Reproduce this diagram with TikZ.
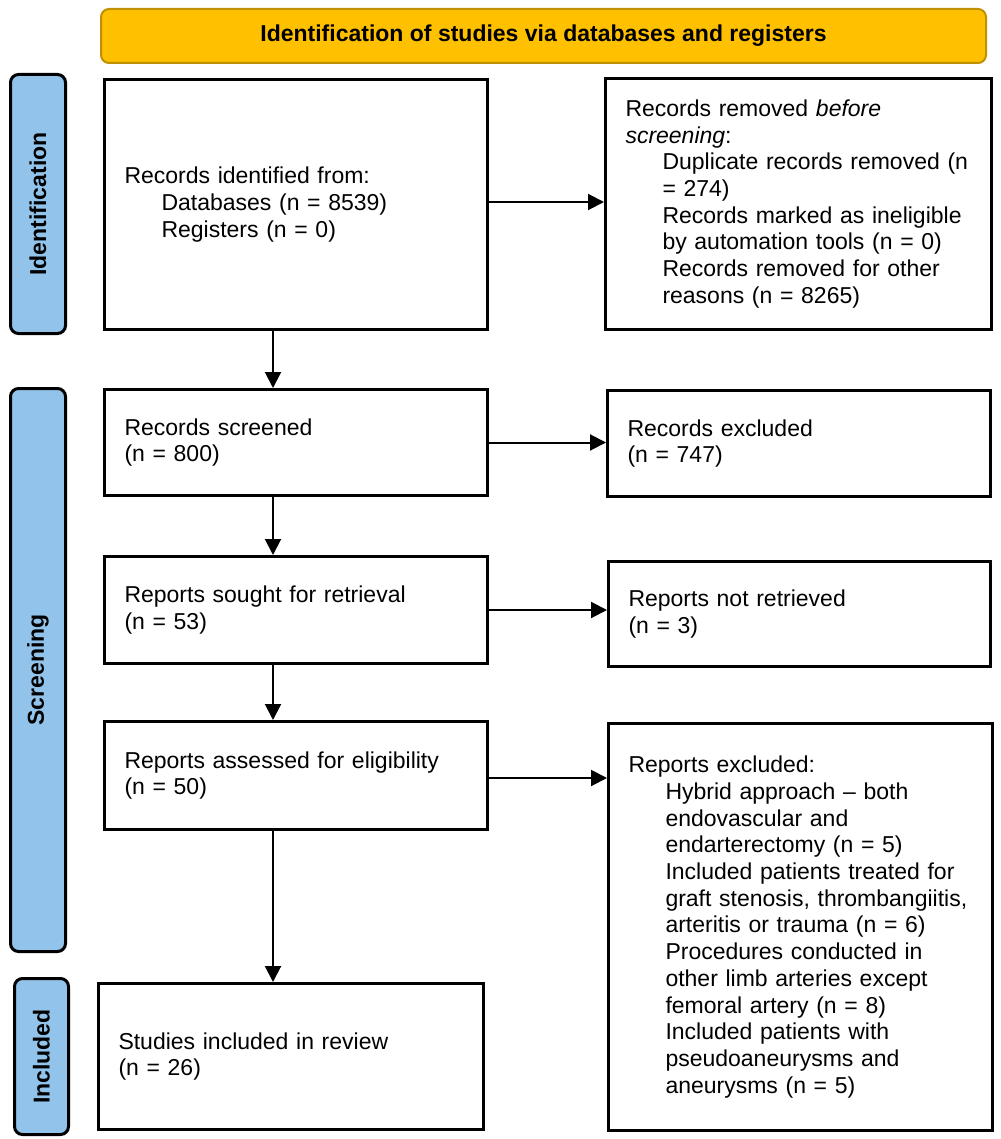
\documentclass[tikz,border=0pt]{standalone}
\usepackage{fontspec}
\setmainfont{Liberation Sans}
\usetikzlibrary{arrows.meta,calc}
\definecolor{bannerfill}{RGB}{255,192,0}
\definecolor{bannerline}{RGB}{191,144,0}
\definecolor{sidefill}{RGB}{146,196,235}
\newcommand{\ind}{\hspace*{37pt}}
\begin{document}
\begin{tikzpicture}[x=1pt,y=-1pt,
  every node/.style={font=\fontsize{23}{26.7}\selectfont},
  box/.style={draw=black, line width=3pt, fill=white, anchor=north west,
    inner xsep=20pt, inner ysep=0pt, align=left},
  side/.style={draw=black, line width=3pt, fill=sidefill, rounded corners=8pt,
    anchor=north west, inner sep=0pt, font=\fontsize{23}{26.7}\selectfont\bfseries},
  arr/.style={line width=2pt, -{Triangle[length=16pt,width=16pt]}}]
\useasboundingbox (0,0) rectangle (1000,1139);

% banner
\node[draw=bannerline, line width=2pt, fill=bannerfill, rounded corners=8pt,
  minimum width=885pt, minimum height=54pt, anchor=north west, inner sep=0pt,
  font=\fontsize{23}{26.7}\selectfont\bfseries] (banner) at (100,8)
  {Identification of studies via databases and registers};

% side labels
\node[side, minimum width=55pt, minimum height=259pt] (idlab) at (9,73) {\rotatebox{90}{Identification}};
\node[side, minimum width=55pt, minimum height=563pt] (scrlab) at (9,387) {\rotatebox{90}{Screening}};
\node[side, minimum width=54pt, minimum height=156pt] (inclab) at (13,977) {\rotatebox{90}{Included}};

% left column
\node[box, minimum width=383pt, minimum height=250pt, text width=343pt] (ident) at (103,78)
  {Records identified from:\\\ind Databases (n = 8539)\\\ind Registers (n = 0)};
\node[box, minimum width=383pt, minimum height=106pt, text width=343pt] (screened) at (103,388)
  {Records screened\\(n = 800)};
\node[box, minimum width=383pt, minimum height=107pt, text width=343pt] (sought) at (103,555)
  {Reports sought for retrieval\\(n = 53)};
\node[box, minimum width=383pt, minimum height=108pt, text width=343pt] (assessed) at (103,720)
  {Reports assessed for eligibility\\(n = 50)};
\node[box, minimum width=385pt, minimum height=146pt, text width=345pt] (studies) at (97,982)
  {Studies included in review\\(n = 26)};

% right column
\node[box, minimum width=386pt, minimum height=251pt, text width=346pt] (removed) at (604,77)
  {Records removed \textit{before}\\\textit{screening}:\\
   \ind Duplicate records removed (n\\\ind = 274)\\
   \ind Records marked as ineligible\\\ind by automation tools (n = 0)\\
   \ind Records removed for other\\\ind reasons (n = 8265)};
\node[box, minimum width=383pt, minimum height=106pt, text width=343pt] (excluded) at (606,389)
  {Records excluded\\(n = 747)};
\node[box, minimum width=382pt, minimum height=105pt, text width=342pt] (notret) at (607,560)
  {Reports not retrieved\\(n = 3)};
\node[box, minimum width=384pt, minimum height=407pt, text width=344pt] (repexcl) at (607,722)
  {Reports excluded:\\
   \ind Hybrid approach -- both\\\ind endovascular and\\\ind endarterectomy (n = 5)\\
   \ind Included patients treated for\\\ind graft stenosis, thrombangiitis,\\\ind arteritis or trauma (n = 6)\\
   \ind Procedures conducted in\\\ind other limb arteries except\\\ind femoral artery (n = 8)\\
   \ind Included patients with\\\ind pseudoaneurysms and\\\ind aneurysms (n = 5)};

% connectors
\coordinate (vx) at (273,0);
\draw[arr] (ident.south -| vx) -- (screened.north -| vx);
\draw[arr] (screened.south -| vx) -- (sought.north -| vx);
\draw[arr] (sought.south -| vx) -- (assessed.north -| vx);
\draw[arr] (assessed.south -| vx) -- (studies.north -| vx);
\coordinate (hy1) at (0,202);
\draw[arr] (ident.east |- hy1) -- (removed.west |- hy1);
\draw[arr] (screened.east) -- (screened.east -| excluded.west);
\draw[arr] (sought.east) -- (sought.east -| notret.west);
\coordinate (hy) at (0,778);
\draw[arr] (assessed.east |- hy) -- (repexcl.west |- hy);
\end{tikzpicture}
\end{document}
